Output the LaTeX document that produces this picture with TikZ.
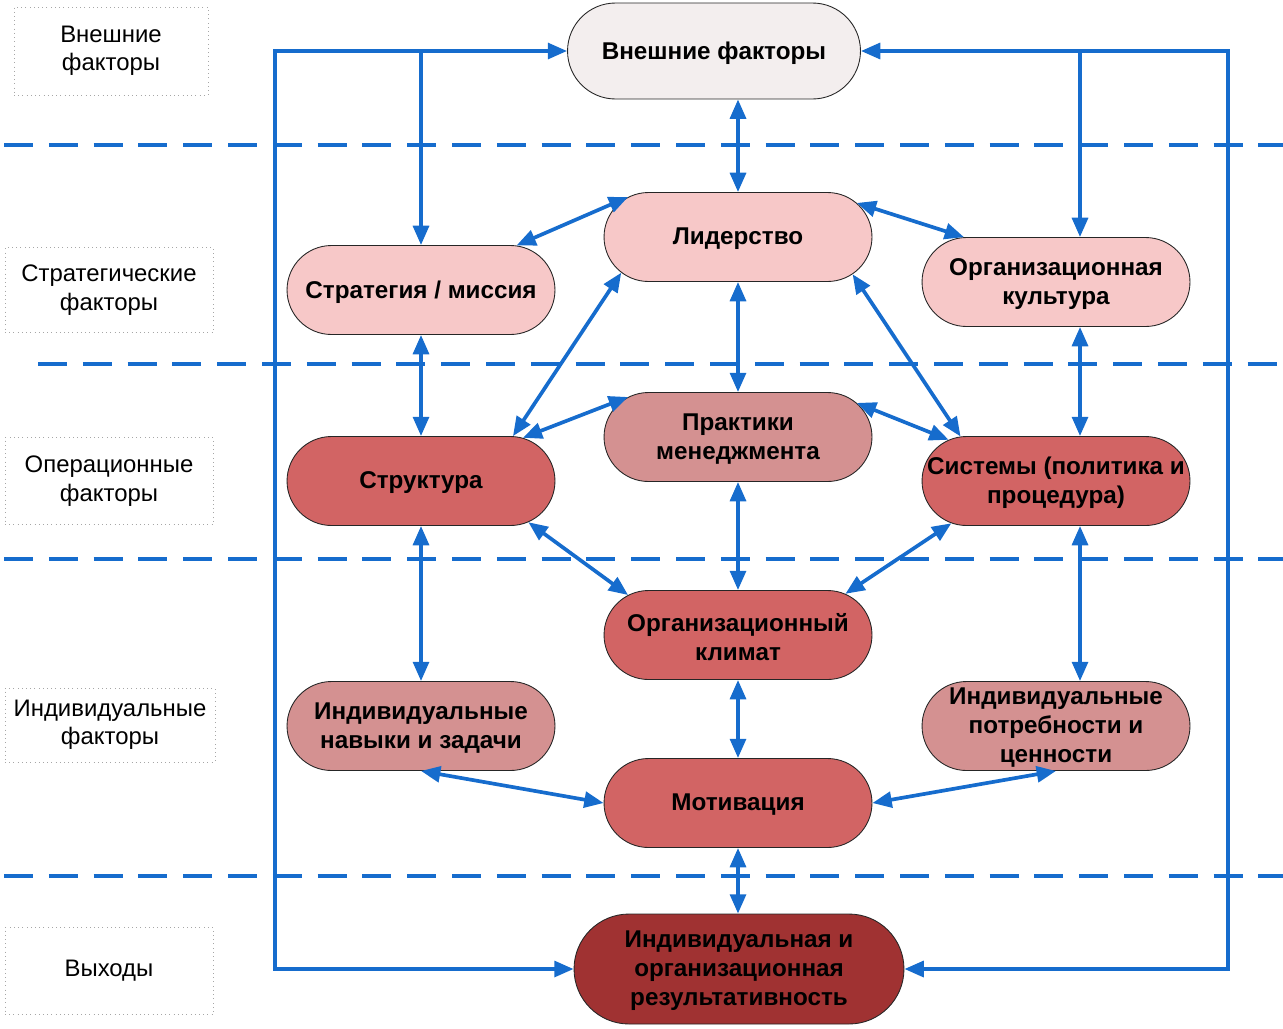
\documentclass[tikz,border=0pt]{standalone}
\usepackage{fontspec}
\setmainfont{Liberation Sans}
\usetikzlibrary{shapes.misc,arrows.meta}
\definecolor{ablue}{RGB}{22,108,205}
\definecolor{cext}{RGB}{243,238,238}
\definecolor{clight}{RGB}{247,200,200}
\definecolor{cmid}{RGB}{212,145,145}
\definecolor{cred}{RGB}{210,100,100}
\definecolor{cdark}{RGB}{160,50,50}
\begin{document}
\begin{tikzpicture}[x=0.02cm,y=-0.02cm,
  box/.style={rounded rectangle, draw=black!85, line width=0.5pt, minimum width=5.36cm, minimum height=1.78cm, inner sep=0pt},
  txt/.style={font=\bfseries\fontsize{13.8}{16.4}\selectfont, align=center, inner sep=0pt, yshift=-1pt},
  lab/.style={draw=black!35, dotted, line width=0.4pt, font=\fontsize{13.6}{16.2}\selectfont, align=center, inner sep=0pt},
  sep/.style={ablue, line width=2pt, dash pattern=on 16.5pt off 9pt},
  arr/.style={ablue, line width=2.1pt, {Triangle[length=11pt,width=9pt]}-{Triangle[length=11pt,width=9pt]}},
  arrto/.style={ablue, line width=2.1pt, -{Triangle[length=11pt,width=9pt]}}]
\useasboundingbox (0,0) rectangle (1283,1028);

% separators
\draw[sep] (4,145) -- (1283,145);
\draw[sep] (38,364) -- (1283,364);
\draw[sep] (4,559) -- (1283,559);
\draw[sep] (4,876) -- (1283,876);

% level labels
\node[lab, minimum width=3.88cm, minimum height=1.76cm] (l1) at (111,51) {Внешние\\факторы};
\node[lab, minimum width=4.16cm, minimum height=1.70cm] (l2) at (109,290) {Стратегические\\факторы};
\node[lab, minimum width=4.16cm, minimum height=1.74cm] (l3) at (109,481) {Операционные\\факторы};
\node[lab, minimum width=4.20cm, minimum height=1.48cm] (l4) at (110,725) {Индивидуальные\\факторы};
\node[lab, minimum width=4.16cm, minimum height=1.74cm] (l5) at (109,971) {Выходы};

% nodes
\node[box, fill=cext, minimum width=5.86cm, minimum height=1.92cm] (ext) at (714,51) {};
\node[txt] (ext-t) at (ext) {Внешние факторы};
\node[box, fill=clight] (lid) at (738,237) {};
\node[txt] (lid-t) at (lid) {Лидерство};
\node[box, fill=clight] (str) at (421,290) {};
\node[txt] (str-t) at (str) {Стратегия / миссия};
\node[box, fill=clight] (kul) at (1056,282) {};
\node[txt] (kul-t) at (kul) {Организационная\\культура};
\node[box, fill=cmid] (pra) at (738,437) {};
\node[txt] (pra-t) at (pra) {Практики\\менеджмента};
\node[box, fill=cred] (stu) at (421,481) {};
\node[txt] (stu-t) at (stu) {Структура};
\node[box, fill=cred] (sys) at (1056,481) {};
\node[txt] (sys-t) at (sys) {Системы (политика и\\процедура)};
\node[box, fill=cred] (kli) at (738,635) {};
\node[txt] (kli-t) at (kli) {Организационный\\климат};
\node[box, fill=cmid] (nav) at (421,726) {};
\node[txt] (nav-t) at (nav) {Индивидуальные\\навыки и задачи};
\node[box, fill=cmid] (pot) at (1056,726) {};
\node[txt] (pot-t) at (pot) {Индивидуальные\\потребности и\\ценности};
\node[box, fill=cred] (mot) at (738,803) {};
\node[txt] (mot-t) at (mot) {Мотивация};
\node[box, fill=cdark, minimum width=6.6cm, minimum height=2.2cm] (res) at (739,969) {};
\node[txt] (res-t) at (res) {Индивидуальная и\\организационная\\результативность};

% frame coordinates
\coordinate (fl) at (275,47);
\coordinate (fr) at (1228,47);
\coordinate (bx) at (1080,47);

% outer frame
\draw[arr] (ext.west) -- (ext.west -| fl) -- (res.west -| fl) -- (res.west);
\draw[arr] (ext.east) -- (ext.east -| fr) -- (res.east -| fr) -- (res.east);
\draw[arrto] (ext.west -| str.north) -- (str.north);
\draw[arrto] (ext.east -| bx) -- (bx |- kul.north);

% vertical connectors
\draw[arr] (lid.north |- ext.south) -- (lid.north);
\draw[arr] (lid.south) -- (pra.north);
\draw[arr] (pra.south) -- (kli.north);
\draw[arr] (kli.south) -- (mot.north);
\draw[arr] (mot.south) -- (mot.south |- res.north);
\draw[arr] (str.south) -- (stu.north);
\draw[arr] (stu.south) -- (nav.north);
\draw[arr] (bx |- kul.south) -- (bx |- sys.north);
\draw[arr] (bx |- sys.south) -- (bx |- pot.north);

% diagonal connectors
\draw[arr] (str.25) -- (lid.160.6);
\draw[arr] (lid.16.4) -- (kul.154.7);
\draw[arr] (lid.197.8) -- (stu.26.8);
\draw[arr] (lid.342.4) -- (sys.155);
\draw[arr] (pra.160) -- (stu.23.5);
\draw[arr] (pra.16.7) -- (sys.159);
\draw[arr] (stu.339.4) -- (kli.160);
\draw[arr] (sys.202) -- (kli.21.8);
\draw[arr] (nav.south) -- (mot.west);
\draw[arr] (pot.south) -- (mot.east);
\end{tikzpicture}
\end{document}
